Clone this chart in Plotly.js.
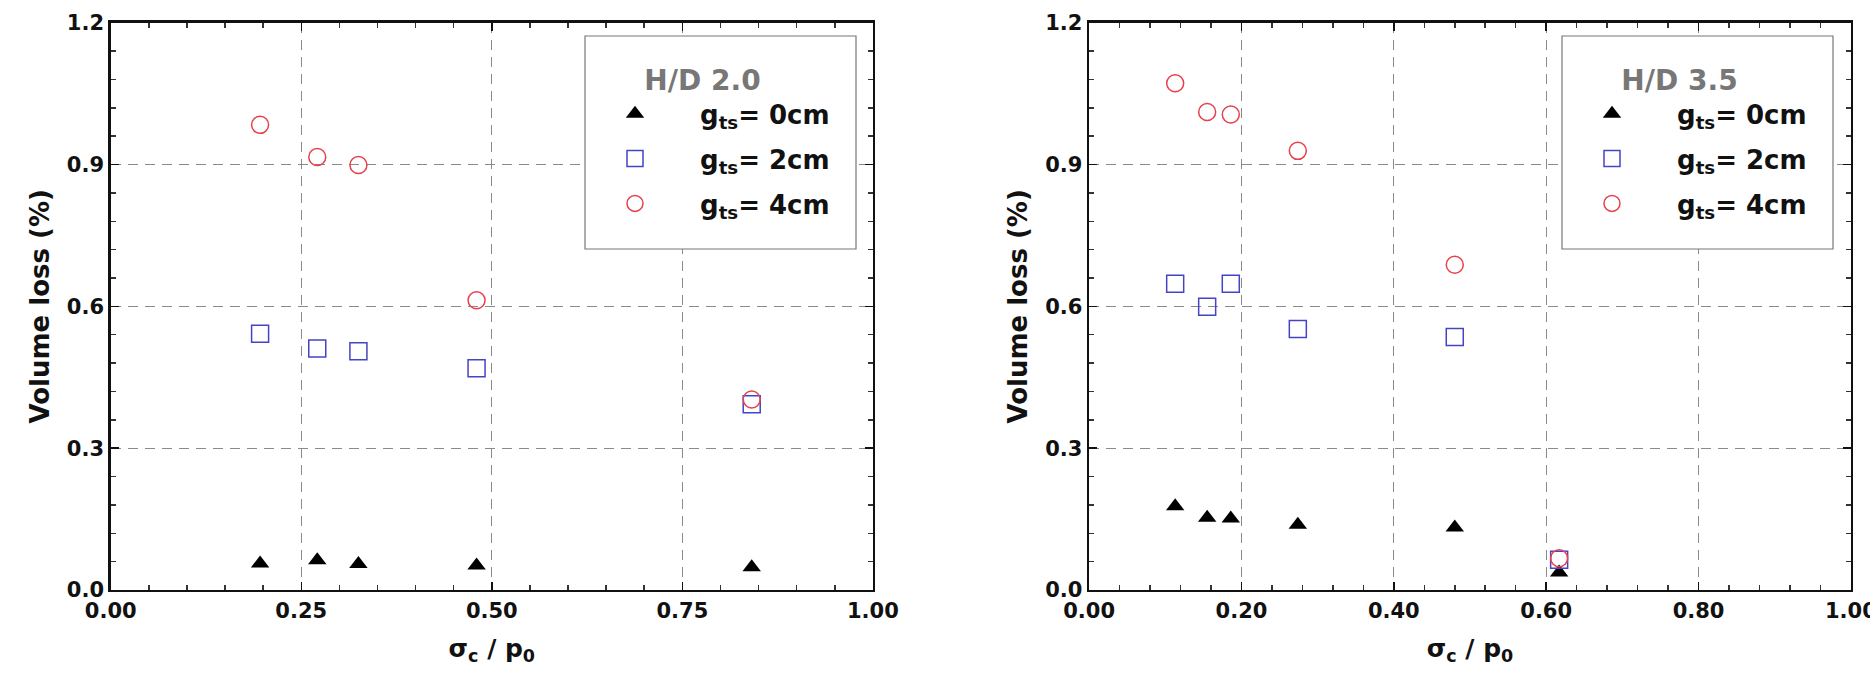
<!DOCTYPE html>
<html>
<head>
<meta charset="utf-8">
<script src="https://cdn.plot.ly/plotly-3.0.1.min.js"></script>
<style>
  html, body { margin: 0; padding: 0; background: #fff; }
  #chart { width: 1870px; height: 689px; }
</style>
</head>
<body>
<div id="chart"></div>
<script>
// H/D 2.0 (left panel)
var hd20_x  = [0.196, 0.271, 0.325, 0.480, 0.841];
var hd20_g0 = [0.056, 0.063, 0.055, 0.052, 0.048];
var hd20_g2 = [0.542, 0.511, 0.505, 0.469, 0.393];
var hd20_g4 = [0.984, 0.916, 0.899, 0.613, 0.403];

// H/D 3.5 (right panel)
var hd35_x  = [0.113, 0.155, 0.186, 0.274, 0.480, 0.617];
var hd35_g0 = [0.177, 0.153, 0.151, 0.138, 0.132, 0.037];
var hd35_g2 = [0.648, 0.599, 0.648, 0.552, 0.535, 0.064];
var hd35_g4 = [1.072, 1.011, 1.006, 0.929, 0.688, 0.067];

var seriesNames = ['g<sub>ts</sub>= 0cm', 'g<sub>ts</sub>= 2cm', 'g<sub>ts</sub>= 4cm'];

CHART = document.getElementById('chart');

var FONT = 'DejaVu Sans, Liberation Sans, sans-serif';
var BLUE = '#4444c4';
var RED = '#e8404c';

function markerFor(i)
{
    if (i == 0) return {symbol: 'triangle-up', size: 16, color: '#000'};
    if (i == 1) return {symbol: 'square-open', size: 17, color: BLUE, line: {width: 1.5, color: BLUE}};
    return {symbol: 'circle-open', size: 17, color: RED, line: {width: 1.5, color: RED}};
}

function panelTraces(x, ys, xa, ya, leg)
{
    return ys.map(function (y, i) {
        return {x: x, y: y, xaxis: xa, yaxis: ya,
                type: 'scatter', mode: 'markers',
                name: seriesNames[i],
                legend: leg,
                legendgroup: leg + i,
                marker: markerFor(i)
               };
    });
}

var data = panelTraces(hd20_x, [hd20_g0, hd20_g2, hd20_g4], 'x', 'y', 'legend')
    .concat(panelTraces(hd35_x, [hd35_g0, hd35_g2, hd35_g4], 'x2', 'y2', 'legend2'));

function xAxis(dom, dtick, minorDtick)
{
    return {domain: dom, range: [0, 1.00001], dtick: dtick, tick0: 0,
            tickformat: '.2f', ticklabeloverflow: 'allow',
            showline: true, linewidth: 2.5, linecolor: '#111', mirror: 'ticks',
            ticks: 'inside', ticklen: 8, tickwidth: 1.5, tickcolor: '#111',
            minor: {dtick: minorDtick, ticks: 'inside', ticklen: 5, tickcolor: '#333', showgrid: false},
            showgrid: true, gridcolor: '#8a8a8a', gridwidth: 1.3, griddash: '10px,7px',
            zeroline: false, automargin: false,
            tickfont: {family: FONT, size: 21, color: '#111', weight: 'bold'},
            title: {text: 'σ<sub>c</sub> / p<sub>0</sub>', standoff: 18,
                    font: {family: FONT, size: 25, color: '#111', weight: 'bold'}}
           };
}

function yAxis(anchor)
{
    return {domain: [0.1437, 0.967], range: [0, 1.2], dtick: 0.3, tick0: 0,
            anchor: anchor, tickformat: '.1f',
            showline: true, linewidth: 2.5, linecolor: '#111', mirror: 'ticks',
            ticks: 'inside', ticklen: 8, tickwidth: 1.5, tickcolor: '#111',
            minor: {dtick: 0.06, ticks: 'inside', ticklen: 5, tickcolor: '#333', showgrid: false},
            showgrid: true, gridcolor: '#8a8a8a', gridwidth: 1.3, griddash: '10px,7px',
            zeroline: false, automargin: false,
            tickfont: {family: FONT, size: 21, color: '#111', weight: 'bold'},
            title: {text: 'Volume loss (%)', standoff: 10,
                    font: {family: FONT, size: 26, color: '#111', weight: 'bold'}}
           };
}

function legendBox(x, y, title)
{
    return {x: x, y: y, xanchor: 'left', yanchor: 'top',
            bgcolor: 'rgba(0,0,0,0)', borderwidth: 0,
            traceorder: 'grouped', tracegroupgap: 8,
            itemwidth: 120, itemclick: false,
            font: {family: FONT, size: 26, color: '#111', weight: 'bold'},
            title: {text: title, side: 'top center',
                    font: {family: FONT, size: 28, color: '#777', weight: 'bold'}}
           };
}

function boxShape(x0, x1)
{
    return {type: 'rect', xref: 'paper', yref: 'paper', layer: 'above',
            x0: x0, x1: x1, y0: 1 - 249 / 689, y1: 1 - 36 / 689,
            fillcolor: '#fff', line: {color: '#777', width: 1.2}};
}

var layout = {width: 1870, height: 689,
              margin: {l: 0, r: 0, t: 0, b: 0},
              paper_bgcolor: '#fff', plot_bgcolor: '#fff',
              font: {family: FONT},
              xaxis: xAxis([0.0592, 0.4668], 0.25, 0.05),
              yaxis: yAxis('x'),
              xaxis2: xAxis([0.5824, 0.9898], 0.2, 0.04),
              yaxis2: yAxis('x2'),
              legend: legendBox(570 / 1870, 1 - 54 / 689, 'H/D 2.0'),
              legend2: legendBox(1547 / 1870, 1 - 54 / 689, 'H/D 3.5'),
              shapes: [boxShape(585 / 1870, 856 / 1870), boxShape(1562 / 1870, 1833 / 1870)]
             };

var config = {displayModeBar: false, responsive: false, staticPlot: true};

Plotly.newPlot(CHART, data, layout, config);
</script>
</body>
</html>
